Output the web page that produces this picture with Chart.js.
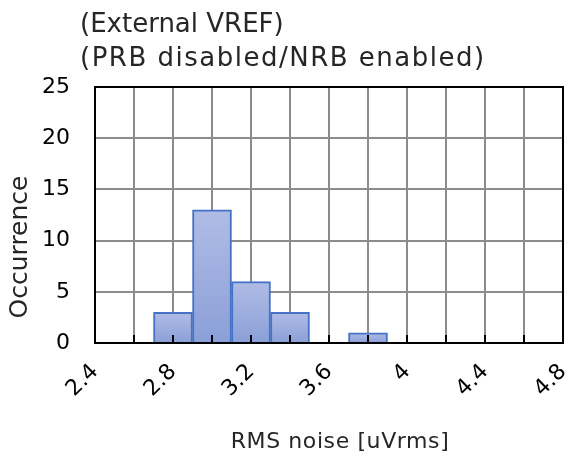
<!DOCTYPE html>
<html>
<head>
<meta charset="utf-8">
<script src="https://cdn.jsdelivr.net/npm/chart.js@4.4.1/dist/chart.umd.min.js"></script>
<style>
  html, body { margin: 0; padding: 0; background: #fff; }
</style>
</head>
<body>
<canvas id="myChart" width="568" height="459"></canvas>
<script>
// histogram data (bin centres, bin width 0.2)
const binCenters = [2.8, 3.0, 3.2, 3.4, 3.8];
const counts = [3, 13, 6, 3, 1];
const xTickLabels = [2.4, 2.8, 3.2, 3.6, 4, 4.4, 4.8];
const yTicks = [0, 5, 10, 15, 20, 25];
const titleLines = ['(External VREF)', '(PRB disabled/NRB enabled)'];
const xTitle = 'RMS noise [uVrms]';
const yTitle = 'Occurrence';

const FONT = '"DejaVu Sans", sans-serif';

function barGradient(c) {
  const chart = c.chart;
  if (!chart.chartArea || c.parsed === undefined) return '#9fb0e0';
  const y = chart.scales.y;
  const top = y.getPixelForValue(c.parsed.y);
  const bottom = y.getPixelForValue(0);
  const g = chart.ctx.createLinearGradient(0, top, 0, bottom);
  g.addColorStop(0, '#b0bce5');
  g.addColorStop(1, '#8b9fd8');
  return g;
}

const decor = {
  id: 'decor',
  afterDatasetsDraw(chart) {
    const ctx = chart.ctx;
    const a = chart.chartArea;
    const x = chart.scales.x;
    ctx.save();
    // small inner tick marks on the x axis
    ctx.strokeStyle = '#000';
    ctx.lineWidth = 2;
    x.ticks.forEach(t => {
      const px = Math.round(x.getPixelForValue(t.value));
      ctx.beginPath();
      ctx.moveTo(px, a.bottom);
      ctx.lineTo(px, a.bottom - 8);
      ctx.stroke();
    });
    // frame
    ctx.strokeRect(a.left, a.top, a.right - a.left, a.bottom - a.top);
    ctx.restore();
  },
  afterDraw(chart) {
    const ctx = chart.ctx;
    ctx.save();
    ctx.fillStyle = '#262626';
    ctx.textBaseline = 'alphabetic';
    ctx.textAlign = 'left';
    ctx.font = '26px ' + FONT;
    ctx.letterSpacing = '0px';
    ctx.fillText(titleLines[0], 80, 32);
    ctx.letterSpacing = '1.5px';
    ctx.fillText(titleLines[1], 80, 66);
    // x title
    ctx.font = '22px ' + FONT;
    ctx.letterSpacing = '0.6px';
    ctx.textAlign = 'center';
    ctx.fillText(xTitle, 340, 448);
    // y title
    ctx.font = '25px ' + FONT;
    ctx.letterSpacing = '0px';
    ctx.translate(20, 247);
    ctx.rotate(-Math.PI / 2);
    ctx.textBaseline = 'middle';
    ctx.fillText(yTitle, 0, 0);
    ctx.restore();
  }
};

new Chart(document.getElementById('myChart'), {
  type: 'bar',
  data: {
    datasets: [{
      data: binCenters.map((c, i) => ({ x: c, y: counts[i] })),
      backgroundColor: barGradient,
      borderColor: '#4472c4',
      borderWidth: 2,
      barPercentage: 1,
      categoryPercentage: 1,
    }]
  },
  options: {
    responsive: false,
    animation: false,
    devicePixelRatio: 1,
    layout: { padding: { top: 87, right: 5, left: 0, bottom: 0 } },
    plugins: {
      legend: { display: false },
      tooltip: { enabled: false },
    },
    scales: {
      x: {
        type: 'linear',
        min: 2.4,
        max: 4.8,
        offset: false,
        afterFit: s => { s.height = 116; s.paddingRight = 0; s.paddingLeft = 0; },
        grid: { color: '#8c8c8c', lineWidth: 2, drawTicks: false, offset: false },
        border: { display: false },
        ticks: {
          stepSize: 0.2,
          autoSkip: false,
          minRotation: 45,
          maxRotation: 45,
          padding: 16,
          color: '#000',
          font: { family: FONT, size: 22 },
          callback: v => {
            const l = xTickLabels.find(t => Math.abs(t - v) < 1e-6);
            return l === undefined ? '' : String(l);
          }
        }
      },
      y: {
        min: yTicks[0],
        max: yTicks[yTicks.length - 1],
        afterFit: s => { s.width = 95; },
        grid: { color: '#8c8c8c', lineWidth: 2, drawTicks: false },
        border: { display: false },
        ticks: {
          stepSize: 5,
          padding: 25,
          color: '#000',
          font: { family: FONT, size: 22 },
        }
      }
    }
  },
  plugins: [decor]
});
</script>
</body>
</html>
